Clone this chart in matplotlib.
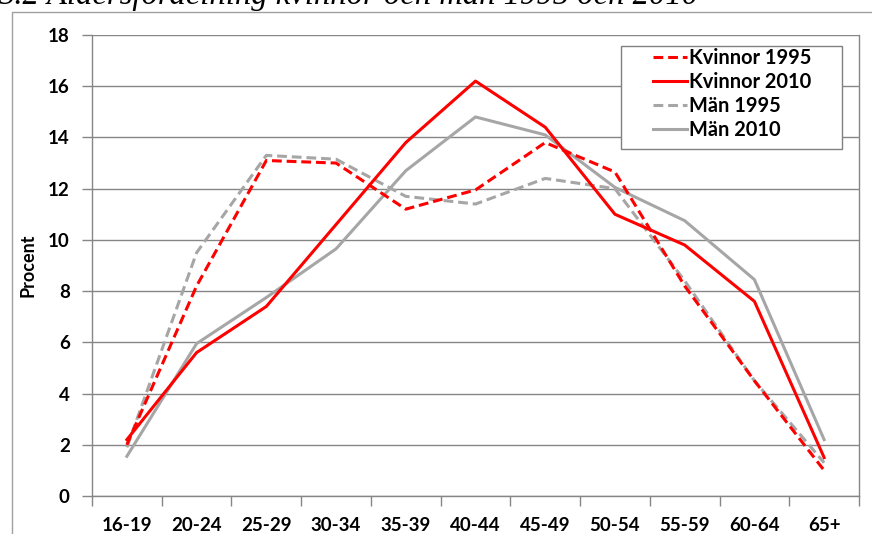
import numpy as np
import matplotlib.pyplot as plt
from matplotlib.patches import Rectangle
from matplotlib.ticker import FixedLocator


# data
age_groups = ["16-19", "20-24", "25-29", "30-34", "35-39", "40-44",
              "45-49", "50-54", "55-59", "60-64", "65+"]

kvinnor_1995 = [2.0, 8.2, 13.1, 13.0, 11.2, 11.95, 13.8, 12.65, 8.2, 4.5, 1.0]
kvinnor_2010 = [2.2, 5.6, 7.4, 10.6, 13.8, 16.2, 14.4, 11.0, 9.8, 7.6, 1.5]
man_1995     = [1.9, 9.5, 13.3, 13.15, 11.7, 11.4, 12.4, 12.0, 8.4, 4.5, 1.3]
man_2010     = [1.55, 5.95, 7.75, 9.65, 12.7, 14.8, 14.1, 12.05, 10.75, 8.45, 2.2]

RED  = "#FF0000"
GREY = "#A6A6A6"
AXC  = "#868686"

plt.rcParams['font.family'] = ['Lato', 'DejaVu Sans']

fig = plt.figure(figsize=(8.72, 5.34), dpi=100)

# outer chart frame (partly cut off by the image edges)
fig.patches.append(Rectangle((12/872, -0.1), 1.0, 1 - 12/534 + 0.1,
                             transform=fig.transFigure, fill=False,
                             edgecolor="#A0A0A0", lw=1.0, clip_on=False))

# title, cut off at the top of the image
fig.text(-0.002, 1 - 4/534, "3.2 Åldersfördelning kvinnor och män 1995 och 2010",
         family="Liberation Serif", style="italic", fontsize=23.5,
         ha="left", va="baseline")

ax = fig.add_axes([92/872, (534-496)/534, (859-92)/872, (496-35)/534])

x = np.arange(len(age_groups))
dash = (0, (3.2, 1.6))
ax.plot(x, kvinnor_1995, color=RED, lw=2.2, ls=dash, label="Kvinnor 1995", zorder=4)
ax.plot(x, kvinnor_2010, color=RED, lw=2.2, label="Kvinnor 2010", zorder=4)
ax.plot(x, man_1995, color=GREY, lw=2.2, ls=dash, label="Män 1995", zorder=3)
ax.plot(x, man_2010, color=GREY, lw=2.2, label="Män 2010", zorder=3)

ax.set_xlim(-0.5, len(age_groups) - 0.5)
ax.set_ylim(0, 18)
ax.set_yticks(np.arange(0, 19, 2))
ax.set_xticks(x)
ax.set_xticklabels(age_groups)
ax.xaxis.set_minor_locator(FixedLocator(np.arange(-0.5, len(age_groups), 1)))

ax.tick_params(axis="x", which="major", length=0, pad=15, labelsize=13.5)
ax.tick_params(axis="x", which="minor", length=7, color=AXC, width=1)
ax.tick_params(axis="y", length=7, color=AXC, width=1, pad=9, labelsize=13.5)
for lab in ax.get_xticklabels() + ax.get_yticklabels():
    lab.set_fontweight("bold")

ax.grid(axis="y", color=AXC, lw=1)
ax.set_axisbelow(True)
for side in ["left", "bottom", "right"]:
    ax.spines[side].set_color(AXC)
    ax.spines[side].set_linewidth(1)
ax.spines["top"].set_visible(False)

ax.set_ylabel("Procent", fontsize=13, fontweight="bold", labelpad=8)

# legend box: Excel style with wide side padding, drawn separately
ax.add_patch(Rectangle(((621-92)/767, (496-149)/461), (842-621)/767, (149-46)/461,
                       transform=ax.transAxes, facecolor="white",
                       edgecolor="#808080", lw=1, zorder=5, clip_on=False))
leg = ax.legend(loc="upper left", bbox_to_anchor=((653-92)/767, (496-48)/461),
                frameon=False, handlelength=1.7, handletextpad=0.1,
                labelspacing=0.2, borderpad=0, borderaxespad=0,
                prop={"weight": "bold", "size": 14.4})
leg.set_zorder(6)

fig.savefig("out.png", dpi=100)
